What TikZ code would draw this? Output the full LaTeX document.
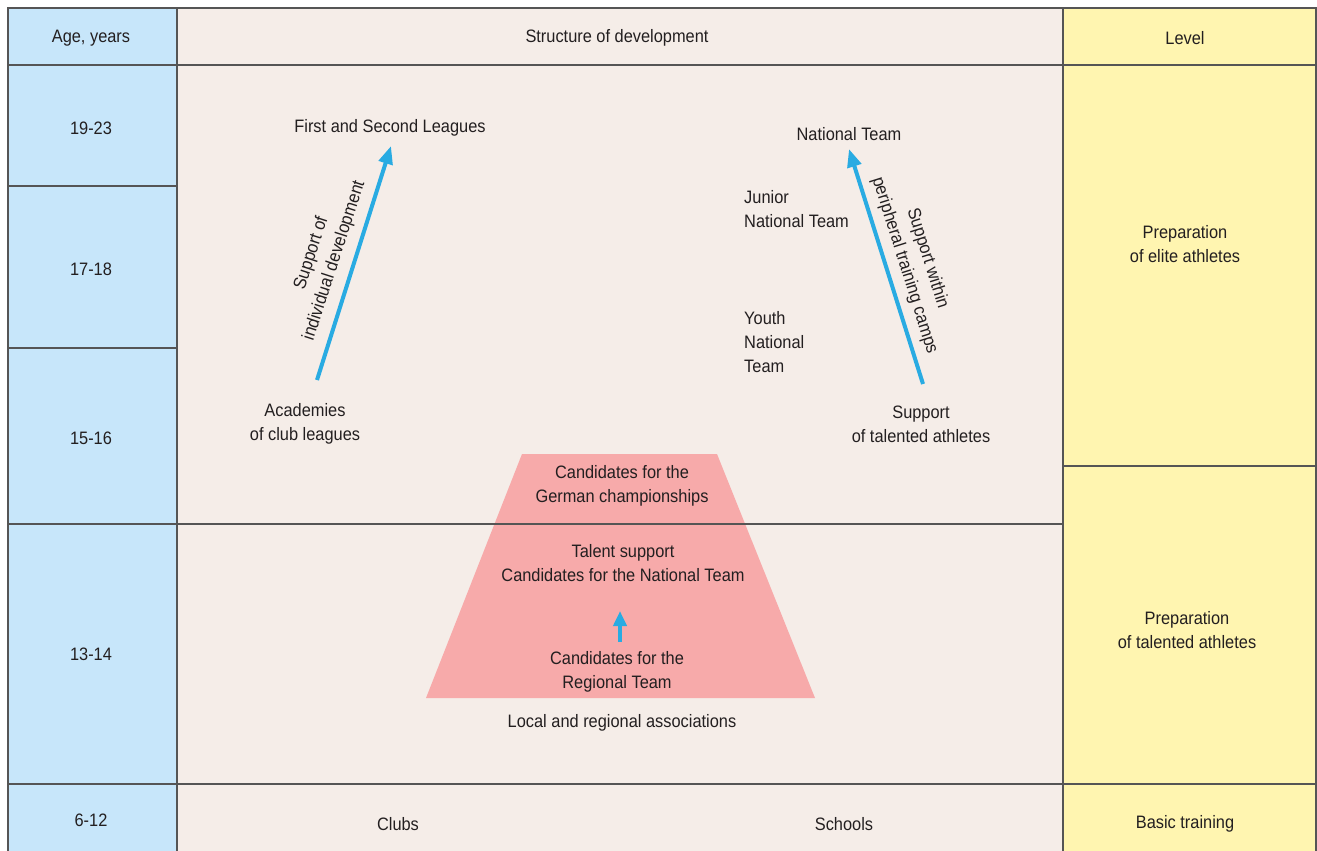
\documentclass[tikz,border=0pt]{standalone}
\usepackage{fontspec}
\setmainfont{Liberation Sans}[FakeStretch=0.91]
\usetikzlibrary{arrows.meta}
\definecolor{agefill}{RGB}{199,230,250}
\definecolor{structfill}{RGB}{245,237,232}
\definecolor{levelfill}{RGB}{255,245,176}
\definecolor{pyramid}{RGB}{247,170,170}
\definecolor{flow}{RGB}{41,171,226}
\definecolor{ink}{RGB}{35,31,32}
\definecolor{rule}{RGB}{85,85,85}
\tikzset{
  lbl/.style={font=\fontsize{18}{24}\selectfont, text=ink, inner sep=0pt, align=center},
  lbll/.style={lbl, align=left, anchor=west},
  grid/.style={draw=rule, line width=1.8pt},
  bigflow/.style={draw=flow, line width=4pt, -{Triangle[length=18pt,width=14pt]}},
  smallflow/.style={draw=flow, line width=4.5pt, -{Triangle[length=15pt,width=13pt]}}
}
\begin{document}
\begin{tikzpicture}[x=1pt,y=-1pt]
\useasboundingbox (0,0) rectangle (1317,851);
% column backgrounds
\fill[agefill] (8,8) rectangle (177,852);
\fill[structfill] (177,8) rectangle (1063,852);
\fill[levelfill] (1063,8) rectangle (1316,852);
% pyramid of candidates
\fill[pyramid] (522,454) -- (717,454) -- (815,698) -- (426,698) -- cycle;
% table rules
\draw[grid] (8,8) rectangle (1316,852);
\draw[grid] (177,8) -- (177,852);
\draw[grid] (1063,8) -- (1063,852);
\draw[grid] (8,65) -- (1316,65);
\draw[grid] (8,186) -- (177,186);
\draw[grid] (8,348) -- (177,348);
\draw[grid] (8,524) -- (1063,524);
\draw[grid] (8,784) -- (1316,784);
\draw[grid] (1063,466) -- (1316,466);
% headers
\node[lbl] (hage) at (91,38) {Age, years};
\node[lbl] (hstruct) at (617,38) {Structure of development};
\node[lbl] (hlevel) at (1185,38) {Level};
% ages
\node[lbl] (a1) at (91,128) {19-23};
\node[lbl] (a2) at (91,269) {17-18};
\node[lbl] (a3) at (91,438) {15-16};
\node[lbl] (a4) at (91,654) {13-14};
\node[lbl] (a5) at (91,820) {6-12};
% levels
\node[lbl] (l1) at (1185,244) {Preparation\\of elite athletes};
\node[lbl] (l2) at (1187,630) {Preparation\\of talented athletes};
\node[lbl] (l3) at (1185,824) {Basic training};
% club pathway
\node[lbl] (leagues) at (390,128) {First and Second Leagues};
\node[lbl] (academies) at (305,424) {Academies\\of club leagues};
\coordinate (clubfrom) at (317,380);
\coordinate (clubto) at (391,146);
\draw[bigflow] (clubfrom) -- (clubto);
\node[lbl, rotate=72] (clubnote) at (323,257) {Support of\\individual development};
% national pathway
\node[lbl] (natteam) at (849,134) {National Team};
\node[lbl] (talented) at (921,424) {Support\\of talented athletes};
\node[lbll] (junior) at (744,209) {Junior\\National Team};
\node[lbll] (youth) at (744,342) {Youth\\National\\Team};
\coordinate (natfrom) at (923,384);
\coordinate (natto) at (849,149);
\draw[bigflow] (natfrom) -- (natto);
\node[lbl, rotate=-72.5] (natnote) at (916,262) {Support within\\peripheral training camps};
% pyramid texts
\node[lbl] (german) at (622,486) {Candidates for the\\German championships};
\node[lbl] (talent) at (623,563) {Talent support\\Candidates for the National Team};
\node[lbl] (regional) at (617,672) {Candidates for the\\Regional Team};
\coordinate (upfrom) at (620,642);
\coordinate (upto) at (620,611);
\draw[smallflow] (upfrom) -- (upto);
\node[lbl] (assoc) at (622,723) {Local and regional associations};
% basic level
\node[lbl] (clubs) at (398,824) {Clubs};
\node[lbl] (schools) at (844,824) {Schools};
\end{tikzpicture}
\end{document}
